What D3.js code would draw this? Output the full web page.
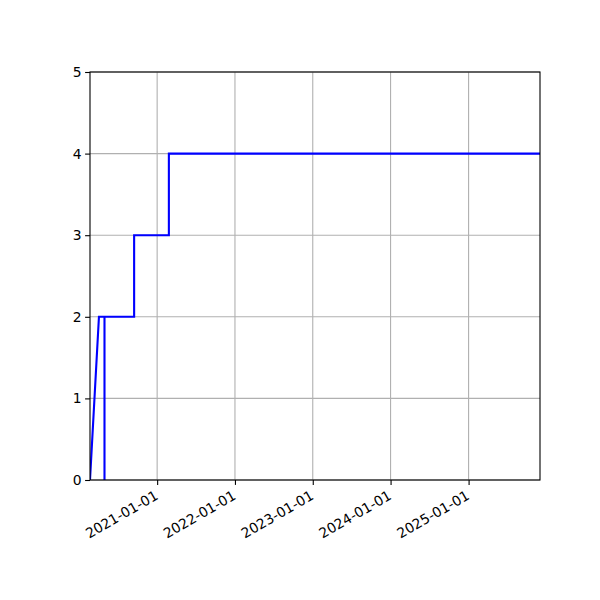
<!DOCTYPE html>
<html>
<head>
<meta charset="utf-8">
<script src="https://cdn.jsdelivr.net/npm/d3@7"></script>
<style>
  body { margin: 0; background: #fff; }
  svg { display: block; }
</style>
</head>
<body>
<div id="chart"></div>
<script>
(() => {
    // step series
    const dates = ['2020-02-21', '2020-04-03', '2020-04-29', '2020-04-29', '2020-04-29',
                   '2020-09-15', '2020-09-15', '2021-02-25', '2021-02-25', '2025-12-02'];
    const values = [0, 2, 2, 0, 2, 2, 3, 3, 4, 4];
    const xTickLabels = ['2021-01-01', '2022-01-01', '2023-01-01', '2024-01-01', '2025-01-01'];
    const yTicks = [0, 1, 2, 3, 4, 5];

    const width = 600;
    const height = 600;
    const margin = { top: 72, right: 60, bottom: 120, left: 90 };
    const font = 'DejaVu Sans, sans-serif';
    const fontSize = '13.9px';

    const parse = d3.utcParse('%Y-%m-%d');
    const points = dates.map((d, i) => ({ date: parse(d), value: values[i] }));

    const svg = d3.select('#chart')
        .append('svg')
        .attr('width', width)
        .attr('height', height);

    const x = d3.scaleUtc()
        .domain(d3.extent(points, d => d.date))
        .range([margin.left, width - margin.right]);

    const y = d3.scaleLinear()
        .domain([0, 5])
        .range([height - margin.bottom, margin.top]);

    const tickDates = xTickLabels.map(parse);

    // grid
    const grid = svg.append('g')
        .attr('stroke', '#b0b0b0')
        .attr('stroke-width', 1.1);
    grid.selectAll('.vg')
        .data(tickDates)
        .enter()
        .append('line')
        .attr('x1', d => x(d))
        .attr('x2', d => x(d))
        .attr('y1', margin.top)
        .attr('y2', height - margin.bottom);
    grid.selectAll('.hg')
        .data(yTicks)
        .enter()
        .append('line')
        .attr('x1', margin.left)
        .attr('x2', width - margin.right)
        .attr('y1', d => y(d))
        .attr('y2', d => y(d));

    // series line
    svg.append('defs').append('clipPath')
        .attr('id', 'plot-clip')
        .append('rect')
        .attr('x', margin.left)
        .attr('y', margin.top)
        .attr('width', width - margin.left - margin.right)
        .attr('height', height - margin.top - margin.bottom);

    const line = d3.line()
        .x(d => x(d.date))
        .y(d => y(d.value));

    svg.append('path')
        .datum(points)
        .attr('clip-path', 'url(#plot-clip)')
        .attr('d', line)
        .attr('fill', 'none')
        .attr('stroke', '#0000ff')
        .attr('stroke-width', 2.1)
        .attr('stroke-linejoin', 'miter');

    // axes
    const xAxis = svg.append('g')
        .attr('transform', `translate(0, ${height - margin.bottom})`)
        .call(d3.axisBottom(x)
            .tickValues(tickDates)
            .tickFormat(d3.utcFormat('%Y-%m-%d'))
            .tickSize(4.9)
            .tickPadding(3.5));
    xAxis.select('.domain').remove();
    xAxis.selectAll('.tick line').attr('stroke', '#000').attr('stroke-width', 1.1);
    xAxis.selectAll('.tick text')
        .attr('fill', '#000')
        .style('font-family', font)
        .style('font-size', fontSize)
        .attr('text-anchor', 'end')
        .attr('dy', '0.7em')
        .attr('transform', 'rotate(-30, 0, 8)')
        .attr('y', 8)
        .attr('x', -4);

    const yAxis = svg.append('g')
        .attr('transform', `translate(${margin.left}, 0)`)
        .call(d3.axisLeft(y)
            .tickValues(yTicks)
            .tickFormat(d3.format('d'))
            .tickSize(4.9)
            .tickPadding(3.5));
    yAxis.select('.domain').remove();
    yAxis.selectAll('.tick line').attr('stroke', '#000').attr('stroke-width', 1.1);
    yAxis.selectAll('.tick text')
        .attr('fill', '#000')
        .style('font-family', font)
        .style('font-size', fontSize);

    // frame
    svg.append('rect')
        .attr('x', margin.left)
        .attr('y', margin.top)
        .attr('width', width - margin.left - margin.right)
        .attr('height', height - margin.top - margin.bottom)
        .attr('fill', 'none')
        .attr('stroke', '#000')
        .attr('stroke-width', 1.1);
})();
</script>
</body>
</html>
